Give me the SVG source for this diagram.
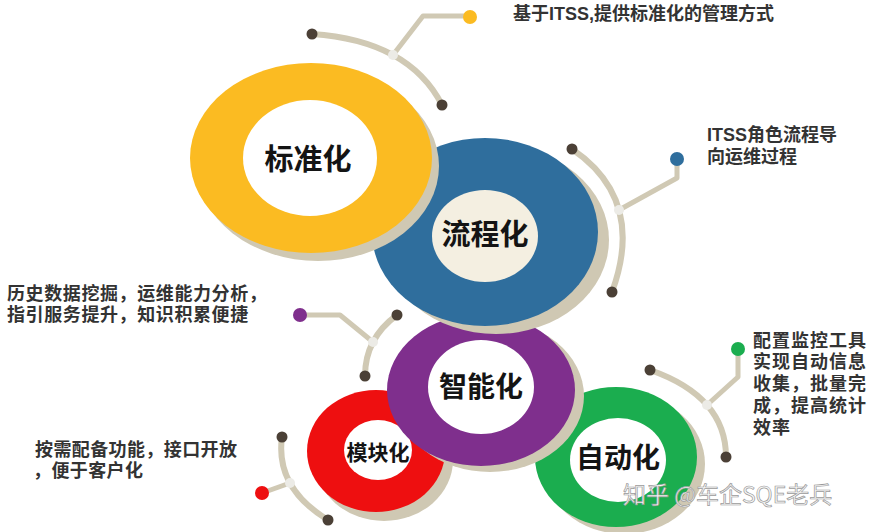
<svg xmlns="http://www.w3.org/2000/svg" width="888" height="532" viewBox="0 0 888 532">
<style>
.shadow{fill:#cfc8b3}
.inner{fill:#ffffff}
.ring-label{font-family:"Noto Sans CJK SC","Liberation Sans",sans-serif;font-weight:bold;fill:#141414;text-anchor:middle}
.desc{font-family:"Liberation Sans","Noto Sans CJK SC",sans-serif;font-weight:bold;fill:#333333;font-size:18px}
.arc{fill:none;stroke:#d0c9b4;stroke-width:6;stroke-linecap:round}
.lead{fill:none;stroke:#d0c9b4;stroke-width:5;stroke-linejoin:round}
.end{fill:#4b4036}
.gap{fill:#ecebe6}
.wm{font-family:"Noto Sans CJK SC","Liberation Sans",sans-serif;font-size:23px;fill:#f7f7f7;stroke:#9a9a9a;stroke-width:0.7}
</style>
<rect width="888" height="532" fill="#ffffff"/>
<g id="node-mokuaihua">
<ellipse class="shadow" cx="384" cy="460" rx="69" ry="61"/>
<ellipse cx="376" cy="451" rx="69" ry="61" fill="#ee0f10"/>
<ellipse class="inner" cx="378" cy="450" rx="34" ry="30"/>
<text class="ring-label" x="378" y="460" font-size="21">模块化</text>
</g>
<g id="node-zidonghua">
<ellipse class="shadow" cx="624" cy="464" rx="81" ry="70"/>
<ellipse cx="616" cy="457" rx="81" ry="70" fill="#1bad4f"/>
<ellipse class="inner" cx="618" cy="460" rx="48" ry="42"/>
<text class="ring-label" x="618" y="468" font-size="28">自动化</text>
</g>
<g id="node-zhinenghua">
<ellipse class="shadow" cx="490" cy="396" rx="94" ry="76"/>
<ellipse cx="481" cy="390" rx="94" ry="76" fill="#7f2f8d"/>
<ellipse class="inner" cx="481" cy="387" rx="53" ry="47"/>
<text class="ring-label" x="481" y="397" font-size="28">智能化</text>
</g>
<g id="node-liuchenghua">
<ellipse class="shadow" cx="496" cy="240" rx="113" ry="94"/>
<ellipse cx="485" cy="232" rx="113" ry="94" fill="#2f6e9d"/>
<ellipse cx="485" cy="236" rx="53" ry="46" fill="#f4efe1"/>
<text class="ring-label" x="485" y="245" font-size="29">流程化</text>
</g>
<g id="node-biaozhunhua">
<ellipse class="shadow" cx="318" cy="166" rx="121" ry="95"/>
<ellipse cx="311" cy="158" rx="121" ry="95" fill="#fbbb22"/>
<ellipse class="inner" cx="310" cy="158" rx="67" ry="58"/>
<text class="ring-label" x="308" y="170" font-size="29">标准化</text>
</g>
<g id="connectors">
<path class="arc" d="M312,34 Q409,40.5 442,105"/>
<polyline class="lead" points="393,55 423,16 470,16"/>
<circle class="end" cx="312" cy="34" r="5.5"/>
<circle class="end" cx="442" cy="105" r="5.5"/>
<circle class="gap" cx="393" cy="55" r="5"/>
<circle cx="470" cy="17" r="7" fill="#fbbb22"/>

<path class="arc" d="M572,149 Q646,199.5 612,292"/>
<polyline class="lead" points="619,210 677,178 677,160"/>
<circle class="end" cx="572" cy="149" r="5.5"/>
<circle class="end" cx="612" cy="292" r="5.5"/>
<circle class="gap" cx="619" cy="210" r="5"/>
<circle cx="677" cy="159" r="7" fill="#2f6e9d"/>

<path class="arc" d="M397,315 Q365,338.5 365,376"/>
<polyline class="lead" points="300,315 340,315 373,342"/>
<circle class="end" cx="397" cy="315" r="5.5"/>
<circle class="end" cx="365" cy="376" r="5.5"/>
<circle class="gap" cx="373" cy="342" r="5"/>
<circle cx="300" cy="315" r="7" fill="#7f2f8d"/>

<path class="arc" d="M282,437 Q275,487.5 328,520"/>
<polyline class="lead" points="262,493 290,483"/>
<circle class="end" cx="282" cy="437" r="5.5"/>
<circle class="end" cx="328" cy="520" r="5.5"/>
<circle class="gap" cx="290" cy="483" r="5"/>
<circle cx="262" cy="493" r="7" fill="#ee0f10"/>

<path class="arc" d="M650,370 Q726,396.5 726,457"/>
<polyline class="lead" points="738,349 738,377 707,405"/>
<circle class="end" cx="650" cy="370" r="5.5"/>
<circle class="end" cx="726" cy="457" r="5.5"/>
<circle class="gap" cx="707" cy="405" r="5"/>
<circle cx="738" cy="349" r="7" fill="#1bad4f"/>
</g>
<g id="texts">
<text class="desc" x="513" y="20">基于ITSS,提供标准化的管理方式</text>
<text class="desc" x="707" y="141"><tspan x="707" y="141">ITSS角色流程导</tspan><tspan x="707" y="163">向运维过程</tspan></text>
<text class="desc" x="7" y="300" letter-spacing="0.6"><tspan x="7" y="300">历史数据挖掘，运维能力分析，</tspan><tspan x="7" y="321">指引服务提升，知识积累便捷</tspan></text>
<text class="desc" x="753" y="347" letter-spacing="1"><tspan x="753" y="347">配置监控工具</tspan><tspan x="753" y="368">实现自动信息</tspan><tspan x="753" y="390">收集，批量完</tspan><tspan x="753" y="412">成，提高统计</tspan><tspan x="753" y="434">效率</tspan></text>
<text class="desc" x="35" y="456" letter-spacing="0.4"><tspan x="35" y="456">按需配备功能，接口开放</tspan><tspan x="33" y="477">，便于客户化</tspan></text>
<text class="wm" x="623" y="503">知乎 @车企SQE老兵</text>
</g>
</svg>
